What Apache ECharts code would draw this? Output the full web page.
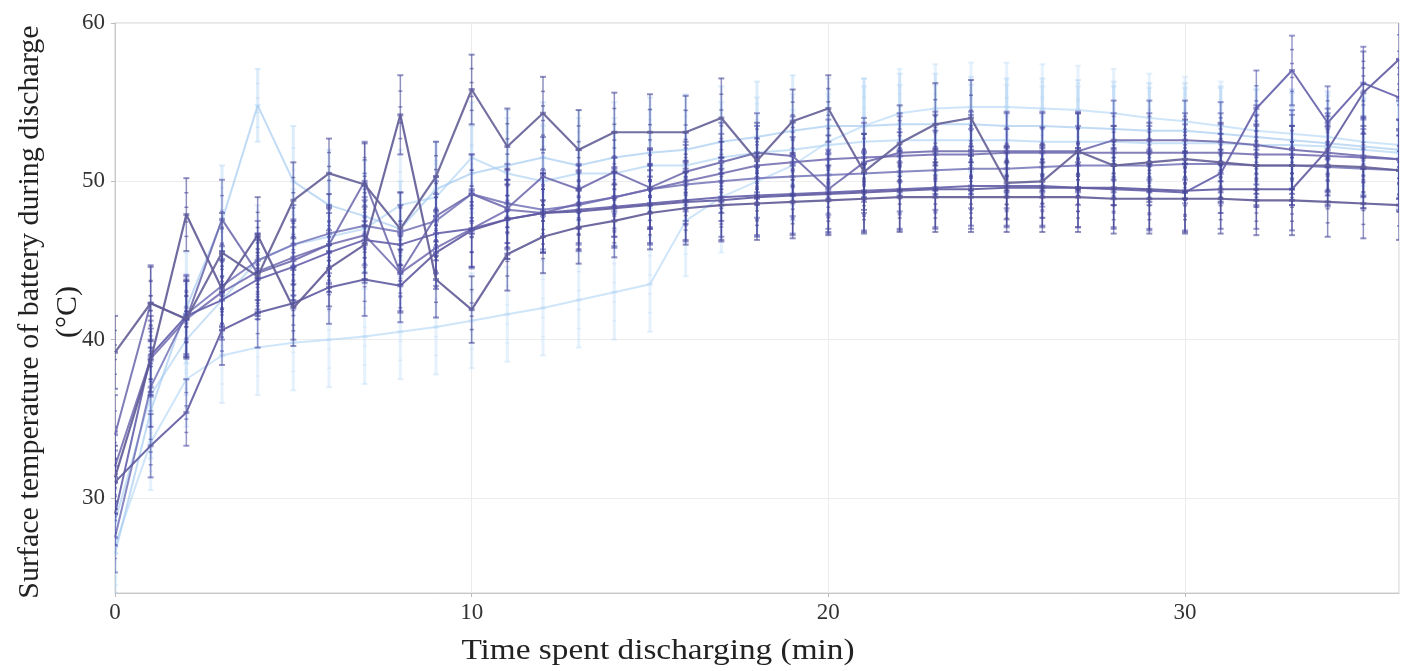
<!DOCTYPE html>
<html><head><meta charset="utf-8">
<script src="https://cdn.jsdelivr.net/npm/echarts@6/dist/echarts.min.js"></script>
<style>html,body{margin:0;padding:0;background:#fff}#c{width:1405px;height:671px}</style>
</head><body><div id="c"></div>
<script>
// ---------------- data ----------------
const minutes = [0,1,2,3,4,5,6,7,8,9,10,11,12,13,14,15,16,17,18,19,20,21,22,23,24,25,26,27,28,29,30,31,32,33,34,35,36];
const xTickLabels = ['0','10','20','30'];
const yTickLabels = ['30','40','50','60'];
const xTitle = 'Time spent discharging (min)';
const yTitleLines = ['Surface temperature of battery during discharge', '(\u00B0C)'];

// light series
const l1 = [26.5,35.5,42.0,47.5,54.8,50.0,48.5,47.8,47.0,49.5,50.5,51.0,51.5,51.0,51.5,51.8,52.0,52.5,52.8,53.2,53.5,53.5,53.6,53.6,53.6,53.5,53.5,53.4,53.3,53.2,53.2,53.0,52.8,52.6,52.4,52.2,52.0];
const l1Err = [2.5,3.0,3.5,3.5,2.3,3.5,3.5,3.5,3.0,3.0,3.0,3.5,3.5,3.5,3.5,3.5,3.5,3.5,3.5,3.5,3.0,3.0,3.2,3.2,3.0,3.0,3.0,3.0,3.0,3.0,3.0,3.0,3.0,3.0,3.0,3.0,3.0];
const l2 = [27.0,33.5,37.5,39.0,39.5,39.8,40.0,40.2,40.5,40.8,41.2,41.6,42.0,42.5,43.0,43.5,47.5,49.0,50.0,51.0,52.5,53.5,54.3,54.6,54.7,54.7,54.6,54.5,54.3,54.0,53.8,53.5,53.2,53.0,52.8,52.5,52.3];
const l2Err = [2.5,3.0,3.0,3.0,3.0,3.0,3.0,3.0,3.0,3.0,3.0,3.0,3.0,3.0,3.0,3.0,3.5,3.5,3.5,3.5,3.0,3.0,2.8,2.8,2.8,2.8,2.8,2.8,2.8,2.8,2.8,2.8,2.8,2.8,2.8,2.8,2.8];
const l3 = [28.5,36.5,40.0,42.5,45.0,46.0,46.5,47.0,48.5,49.0,51.5,50.5,50.0,50.5,50.5,51.0,51.0,51.5,51.8,52.0,52.3,52.5,52.6,52.6,52.6,52.6,52.5,52.5,52.5,52.4,52.4,52.4,52.3,52.3,52.2,52.0,51.8];
const l3Err = [2.0,3.0,3.5,3.5,3.5,3.5,3.5,3.5,3.5,3.5,3.5,3.5,3.5,3.5,3.5,3.5,3.5,3.5,3.5,3.5,3.5,3.5,3.5,3.5,3.5,3.5,3.5,3.5,3.5,3.5,3.5,3.5,3.5,3.5,3.5,3.5,3.5];

// dark series
const s1 = [39.2,42.3,41.3,45.5,44.0,48.8,50.5,49.8,47.0,50.3,55.8,52.2,54.3,52.0,53.1,53.1,53.1,54.0,51.3,53.8,54.6,50.6,52.4,53.6,54.0,49.9,50.0,51.9,51.0,51.2,51.4,51.2,51.0,51.0,51.0,50.9,50.7];
const s1Err = [2.3,2.3,2.5,2.5,2.5,2.4,2.2,2.6,2.3,2.2,2.2,2.4,2.3,2.5,2.5,2.4,2.3,2.5,2.4,2.0,2.1,2.4,2.4,2.6,2.4,2.3,2.3,2.4,2.5,2.5,2.5,2.5,2.6,2.5,2.5,2.6,2.6];
const s2 = [31.3,38.7,47.9,43.2,46.6,42.0,44.5,46.0,54.2,43.8,41.9,45.4,46.5,47.1,47.5,48.0,48.3,48.5,48.6,48.7,48.8,48.9,49.0,49.0,49.0,49.0,49.0,49.0,48.9,48.9,48.9,48.9,48.8,48.8,48.7,48.6,48.5];
const s2Err = [2.0,2.0,2.3,2.4,2.4,2.4,2.4,2.4,2.5,2.4,2.1,2.3,2.3,2.3,2.3,2.3,2.3,2.3,2.3,2.3,2.2,2.2,2.2,2.2,2.2,2.2,2.2,2.2,2.2,2.2,2.2,2.2,2.2,2.2,2.2,2.2,2.2];
const s3 = [34.0,42.3,41.3,47.6,44.2,45.0,46.0,50.0,44.2,47.8,49.2,48.3,50.3,49.5,50.6,49.6,50.6,51.2,51.8,51.6,49.5,51.2,51.8,51.9,51.9,51.9,51.9,51.9,52.6,52.6,52.6,52.5,52.3,52.0,51.8,51.6,51.4];
const s3Err = [2.5,2.4,2.4,2.5,2.5,2.5,2.5,2.5,2.5,2.5,2.5,2.5,2.5,2.5,2.5,2.5,2.5,2.5,2.5,2.5,2.5,2.5,2.5,2.5,2.5,2.5,2.5,2.5,2.5,2.5,2.5,2.5,2.5,2.5,2.5,2.5,2.5];
const s4 = [29.0,39.0,41.5,42.5,43.8,44.6,45.5,46.3,46.0,46.7,47.0,47.6,48.0,48.2,48.4,48.6,48.8,49.0,49.1,49.2,49.3,49.4,49.5,49.6,49.7,49.7,49.7,49.6,49.5,49.4,49.3,50.5,54.6,57.0,53.7,56.2,55.3];
const s4Err = [2.0,2.5,2.5,2.5,2.5,2.5,2.5,2.5,2.5,2.5,2.5,2.5,2.5,2.5,2.5,2.5,2.5,2.5,2.5,2.5,2.5,2.5,2.5,2.5,2.5,2.5,2.5,2.5,2.5,2.5,2.5,2.5,2.4,2.2,2.3,2.3,2.4];
const s5 = [31.0,33.3,35.4,40.6,41.7,42.3,43.3,43.8,43.4,45.5,46.9,47.6,48.0,48.1,48.3,48.5,48.7,48.8,49.0,49.1,49.2,49.3,49.4,49.5,49.5,49.6,49.6,49.6,49.6,49.5,49.4,49.5,49.5,49.5,52.0,55.6,57.7];
const s5Err = [2.0,2.0,2.1,2.2,2.2,2.3,2.3,2.3,2.3,2.3,2.3,2.5,2.5,2.5,2.5,2.5,2.5,2.5,2.5,2.5,2.5,2.5,2.5,2.5,2.5,2.5,2.5,2.5,2.5,2.5,2.5,2.5,2.5,2.6,2.6,2.6,2.6];
const s6 = [32.0,38.8,41.3,43.0,44.3,45.2,46.0,46.6,44.2,45.8,47.0,48.2,48.0,48.6,49.0,49.5,50.0,50.5,51.0,51.2,51.4,51.5,51.6,51.7,51.7,51.8,51.8,51.8,51.8,51.8,51.8,51.8,51.7,51.7,51.6,51.5,51.4];
const s6Err = [2.2,2.4,2.4,2.4,2.4,2.4,2.4,2.4,2.4,2.4,2.4,2.5,2.5,2.5,2.5,2.5,2.5,2.5,2.5,2.5,2.5,2.5,2.5,2.5,2.5,2.5,2.5,2.5,2.5,2.5,2.5,2.5,2.5,2.5,2.5,2.5,2.5];
const s7 = [27.5,37.0,41.6,43.4,45.0,46.0,46.7,47.2,46.8,47.5,49.2,48.6,48.2,48.5,49.0,49.5,49.8,50.0,50.2,50.3,50.4,50.5,50.6,50.7,50.8,50.8,50.9,51.0,51.0,51.0,51.1,51.1,51.0,51.0,50.9,50.8,50.7];
const s7Err = [2.2,2.5,2.5,2.5,2.5,2.5,2.5,2.5,2.5,2.5,2.5,2.5,2.5,2.5,2.5,2.5,2.5,2.5,2.5,2.5,2.5,2.5,2.5,2.5,2.5,2.5,2.5,2.5,2.5,2.5,2.5,2.5,2.5,2.5,2.5,2.5,2.5];

// ---------------- styles ----------------
const FONT = "'Liberation Serif', 'DejaVu Serif', serif";
const groups = [
  {values:l2, err:l2Err, line:'rgba(175,212,245,0.6)', bar:'rgba(190,220,248,0.4)', barW:3, lw:2},
  {values:l3, err:l3Err, line:'rgba(165,205,242,0.6)', bar:'rgba(185,216,246,0.4)', barW:3, lw:2},
  {values:l1, err:l1Err, line:'rgba(160,200,240,0.65)', bar:'rgba(180,212,244,0.45)', barW:3, lw:2},
  {values:s7, err:s7Err, line:'rgba(115,115,185,0.85)', bar:'rgba(85,85,175,0.55)', barW:1.5, lw:2},
  {values:s6, err:s6Err, line:'rgba(110,105,175,0.85)', bar:'rgba(80,80,170,0.55)', barW:1.5, lw:2},
  {values:s4, err:s4Err, line:'rgba(100,95,170,0.9)',  bar:'rgba(70,70,165,0.55)', barW:1.5, lw:2},
  {values:s5, err:s5Err, line:'rgba(95,90,160,0.9)',   bar:'rgba(70,70,160,0.55)', barW:1.5, lw:2},
  {values:s3, err:s3Err, line:'rgba(105,100,170,0.85)', bar:'rgba(75,75,165,0.55)', barW:1.5, lw:2},
  {values:s2, err:s2Err, line:'rgba(95,90,150,0.9)',   bar:'rgba(70,70,150,0.6)', barW:1.5, lw:2.2},
  {values:s1, err:s1Err, line:'rgba(100,95,150,0.9)',  bar:'rgba(70,70,150,0.6)', barW:1.5, lw:2.2}
];

function errSeries(g, z) {
  return {
    type:'custom', clip:true, z:z, silent:true,
    data: minutes.map((m,i)=>[m, g.values[i]-g.err[i], g.values[i]+g.err[i], g.values[i]]),
    renderItem(params, api) {
      const x = api.value(0);
      const lo = api.coord([x, api.value(1)]);
      const hi = api.coord([x, api.value(2)]);
      const mid = api.coord([x, api.value(3)]);
      const cap = 3;
      const st = {stroke:g.bar, lineWidth:g.barW};
      const ch = [
        {type:'line', shape:{x1:lo[0],y1:lo[1],x2:hi[0],y2:hi[1]}, style:st},
        {type:'line', shape:{x1:lo[0]-cap,y1:lo[1],x2:lo[0]+cap,y2:lo[1]}, style:{stroke:g.bar,lineWidth:2}},
        {type:'line', shape:{x1:hi[0]-cap,y1:hi[1],x2:hi[0]+cap,y2:hi[1]}, style:{stroke:g.bar,lineWidth:2}},
        {type:'rect', shape:{x:mid[0]-3,y:mid[1]-1.5,width:6,height:3}, style:{fill:g.bar}}
      ];
      [0.2,0.4,0.6,0.8].forEach(f=>{
        const y = lo[1] + (hi[1]-lo[1])*f;
        ch.push({type:'line', shape:{x1:lo[0]-2,y1:y,x2:lo[0]+2,y2:y}, style:{stroke:g.bar,lineWidth:1.5}});
      });
      return {type:'group', children:ch};
    }
  };
}
function lineSeries(g, z) {
  return {
    type:'line', z:z, silent:true, showSymbol:false, animation:false,
    data: minutes.map((m,i)=>[m, g.values[i]]),
    lineStyle:{color:g.line, width:g.lw}
  };
}
const series = [];
groups.forEach((g,i)=>{ series.push(errSeries(g, 2+i*2)); series.push(lineSeries(g, 3+i*2)); });

const chart = echarts.init(document.getElementById('c'), null, {renderer:'canvas'});
chart.setOption({
  animation:false,
  backgroundColor:'#fff',
  grid:{left:115, right:6, top:23, bottom:78, show:true, borderColor:'#cfcfcf', borderWidth:1,
        containLabel:false, outerBoundsMode:'none'},
  graphic:[
    {type:'text', x:658, y:651, scaleX:1.11, originX:0, style:{text:xTitle, font:"30px 'Liberation Serif', serif", fill:'#222', align:'center', verticalAlign:'middle'}},
    {type:'text', x:30, y:312, rotation:Math.PI/2, style:{text:yTitleLines[0], font:"30px 'Liberation Serif', serif", fill:'#222', align:'center', verticalAlign:'middle'}},
    {type:'text', x:68, y:312, rotation:Math.PI/2, style:{text:yTitleLines[1], font:"30px 'Liberation Serif', serif", fill:'#222', align:'center', verticalAlign:'middle'}}
  ],
  xAxis:{
    type:'value', min:0, max:36, interval:10,
    axisLine:{lineStyle:{color:'#c8c8c8'}},
    axisTick:{show:true, length:4, lineStyle:{color:'#bbb'}},
    axisLabel:{fontFamily:FONT, fontSize:23, color:'#333', margin:8, showMaxLabel:false,
      formatter:v=>{const s=String(v);return xTickLabels.includes(s)?s:'';}},
    splitLine:{show:true, lineStyle:{color:'#ececec', width:1}}
  },
  yAxis:{
    type:'value', min:24, max:60, splitNumber:4,
    axisLine:{show:true, lineStyle:{color:'#c8c8c8'}},
    axisTick:{show:true, length:4, lineStyle:{color:'#bbb'}},
    axisLabel:{fontFamily:FONT, fontSize:23, color:'#333', margin:10, showMinLabel:false,
      formatter:v=>{const s=String(v);return yTickLabels.includes(s)?s:'';}},
    splitLine:{show:true, lineStyle:{color:'#ececec', width:1}}
  },
  series:series
});
</script></body></html>
